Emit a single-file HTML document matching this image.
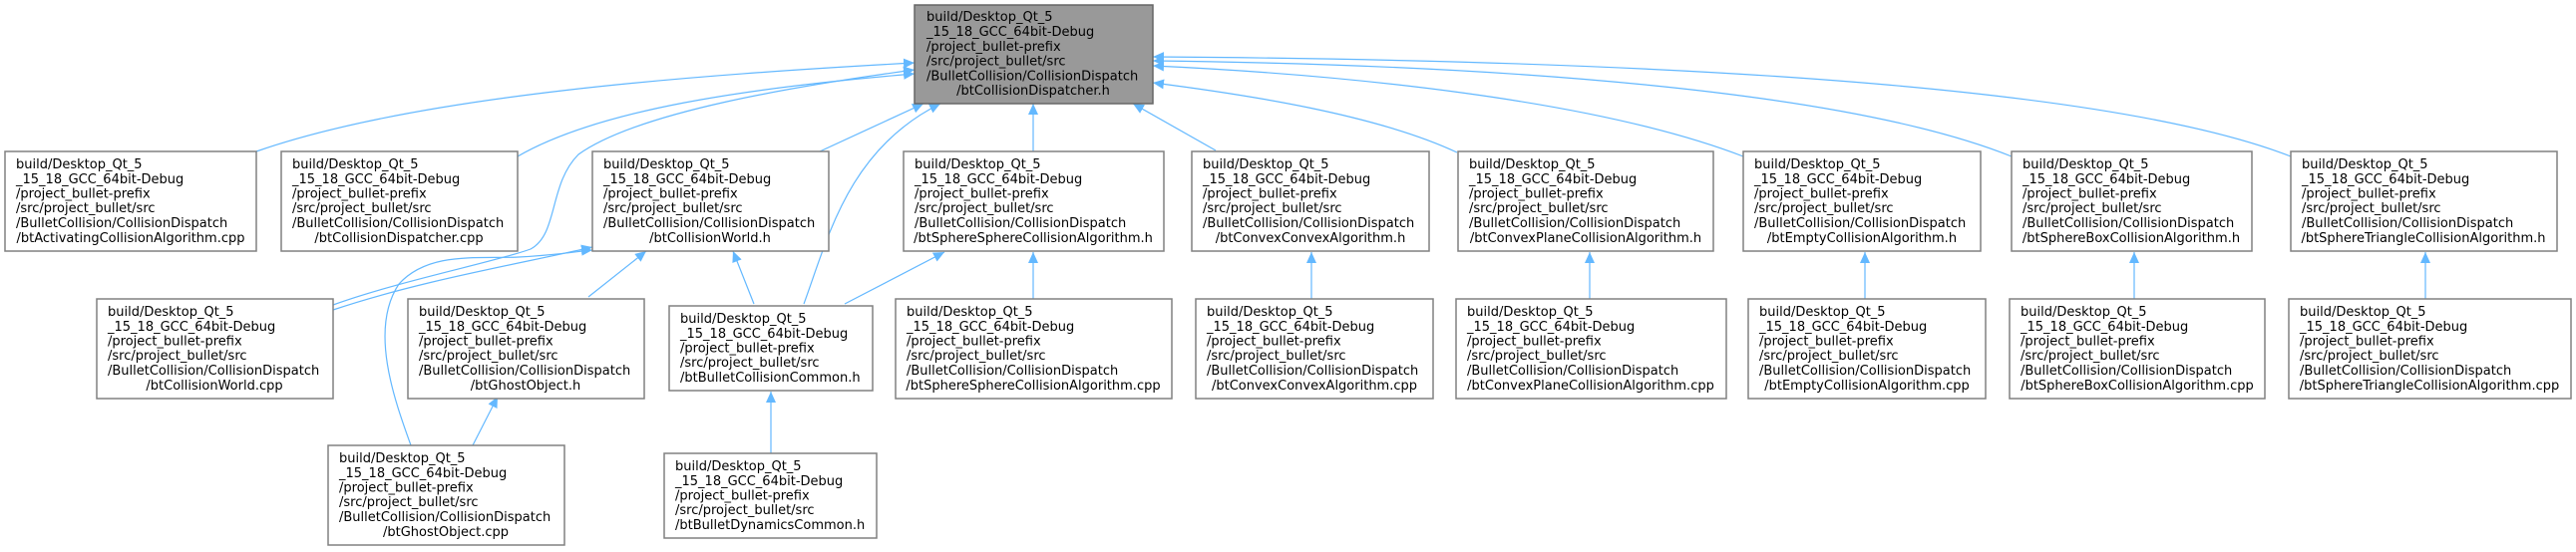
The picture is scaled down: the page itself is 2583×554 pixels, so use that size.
<!DOCTYPE html>
<html><head><meta charset="utf-8"><style>
html,body{margin:0;padding:0;background:#fff}
svg text{font-family:"DejaVu Sans","Liberation Sans",sans-serif;font-size:13px;fill:#000}
</style></head><body>
<svg width="2583" height="549" viewBox="0 0 2583 549" xmlns="http://www.w3.org/2000/svg">
<defs>
<marker id="a" markerWidth="12" markerHeight="10" refX="11" refY="5" orient="auto" markerUnits="userSpaceOnUse">
<path d="M0,0 L11,5 L0,10 z" fill="#63b8ff"/>
</marker>
</defs>
<g fill="none" stroke="#63b8ff" stroke-width="1.2" marker-end="url(#a)">
<path d="M257,152 C420,95 700,75 917,63"/>
<path d="M519,157 C600,110 750,88 917,74"/>
<path d="M334,306 C400,282 500,262 532,250 C560,235 550,185 580,155 C640,112 800,86 917,70"/>
<path d="M334,311 C420,282 520,265 594,248"/>
<path d="M412,447 C395,400 370,330 400,285 C430,252 480,260 520,258 C560,256 580,252 594,251"/>
<path d="M474,447 L499,398"/>
<path d="M590,298 L648,252"/>
<path d="M756,305 L735,252"/>
<path d="M806,305 C830,240 850,150 943,104"/>
<path d="M822,152 L926,104"/>
<path d="M847,305 L947,253"/>
<path d="M773,455 L773,393"/>
<path d="M1036,152 L1036,104"/>
<path d="M1036,300 L1036,253"/>
<path d="M1219,151 L1136,104"/>
<path d="M1315,300 L1315,253"/>
<path d="M1461,153 C1380,115 1250,95 1156,83"/>
<path d="M1748,157 C1600,100 1350,75 1156,66"/>
<path d="M2017,157 C1850,90 1500,65 1156,61"/>
<path d="M2297,157 C2100,80 1600,60 1156,57"/>
<path d="M1594,300 L1594,253"/>
<path d="M1870,300 L1870,253"/>
<path d="M2140,300 L2140,253"/>
<path d="M2432,300 L2432,253"/>
</g>
<g stroke="#808080" stroke-width="1.5">
<rect x="917" y="5" width="239" height="99" fill="#999999" stroke="#666"/>
<rect x="5" y="152" width="252" height="100" fill="#fff"/>
<rect x="282" y="152" width="237" height="100" fill="#fff"/>
<rect x="594" y="152" width="237" height="100" fill="#fff"/>
<rect x="906" y="152" width="261" height="100" fill="#fff"/>
<rect x="1195" y="152" width="238" height="100" fill="#fff"/>
<rect x="1462" y="152" width="256" height="100" fill="#fff"/>
<rect x="1748" y="152" width="238" height="100" fill="#fff"/>
<rect x="2017" y="152" width="241" height="100" fill="#fff"/>
<rect x="2297" y="152" width="267" height="100" fill="#fff"/>
<rect x="97" y="300" width="237" height="100" fill="#fff"/>
<rect x="409" y="300" width="237" height="100" fill="#fff"/>
<rect x="671" y="307" width="204" height="85" fill="#fff"/>
<rect x="898" y="300" width="277" height="100" fill="#fff"/>
<rect x="1199" y="300" width="238" height="100" fill="#fff"/>
<rect x="1460" y="300" width="271" height="100" fill="#fff"/>
<rect x="1753" y="300" width="238" height="100" fill="#fff"/>
<rect x="2015" y="300" width="256" height="100" fill="#fff"/>
<rect x="2295" y="300" width="283" height="100" fill="#fff"/>
<rect x="329" y="447" width="237" height="100" fill="#fff"/>
<rect x="666" y="455" width="213" height="85" fill="#fff"/>
</g>
<g id="t">
<text x="929" y="21">build/Desktop_Qt_5</text><text x="929" y="36">_15_18_GCC_64bit-Debug</text><text x="929" y="51">/project_bullet-prefix</text><text x="929" y="65.5">/src/project_bullet/src</text><text x="929" y="80.5">/BulletCollision/CollisionDispatch</text><text x="1036" y="95" text-anchor="middle">/btCollisionDispatcher.h</text>

<text x="16" y="169">build/Desktop_Qt_5</text><text x="16" y="184">_15_18_GCC_64bit-Debug</text><text x="16" y="198.5">/project_bullet-prefix</text><text x="16" y="213">/src/project_bullet/src</text><text x="16" y="228">/BulletCollision/CollisionDispatch</text><text x="131" y="243" text-anchor="middle">/btActivatingCollisionAlgorithm.cpp</text>

<text x="293" y="169">build/Desktop_Qt_5</text><text x="293" y="184">_15_18_GCC_64bit-Debug</text><text x="293" y="198.5">/project_bullet-prefix</text><text x="293" y="213">/src/project_bullet/src</text><text x="293" y="228">/BulletCollision/CollisionDispatch</text><text x="400" y="243" text-anchor="middle">/btCollisionDispatcher.cpp</text>

<text x="605" y="169">build/Desktop_Qt_5</text><text x="605" y="184">_15_18_GCC_64bit-Debug</text><text x="605" y="198.5">/project_bullet-prefix</text><text x="605" y="213">/src/project_bullet/src</text><text x="605" y="228">/BulletCollision/CollisionDispatch</text><text x="712" y="243" text-anchor="middle">/btCollisionWorld.h</text>

<text x="917" y="169">build/Desktop_Qt_5</text><text x="917" y="184">_15_18_GCC_64bit-Debug</text><text x="917" y="198.5">/project_bullet-prefix</text><text x="917" y="213">/src/project_bullet/src</text><text x="917" y="228">/BulletCollision/CollisionDispatch</text><text x="1036" y="243" text-anchor="middle">/btSphereSphereCollisionAlgorithm.h</text>

<text x="1206" y="169">build/Desktop_Qt_5</text><text x="1206" y="184">_15_18_GCC_64bit-Debug</text><text x="1206" y="198.5">/project_bullet-prefix</text><text x="1206" y="213">/src/project_bullet/src</text><text x="1206" y="228">/BulletCollision/CollisionDispatch</text><text x="1314" y="243" text-anchor="middle">/btConvexConvexAlgorithm.h</text>

<text x="1473" y="169">build/Desktop_Qt_5</text><text x="1473" y="184">_15_18_GCC_64bit-Debug</text><text x="1473" y="198.5">/project_bullet-prefix</text><text x="1473" y="213">/src/project_bullet/src</text><text x="1473" y="228">/BulletCollision/CollisionDispatch</text><text x="1590" y="243" text-anchor="middle">/btConvexPlaneCollisionAlgorithm.h</text>

<text x="1759" y="169">build/Desktop_Qt_5</text><text x="1759" y="184">_15_18_GCC_64bit-Debug</text><text x="1759" y="198.5">/project_bullet-prefix</text><text x="1759" y="213">/src/project_bullet/src</text><text x="1759" y="228">/BulletCollision/CollisionDispatch</text><text x="1867" y="243" text-anchor="middle">/btEmptyCollisionAlgorithm.h</text>

<text x="2028" y="169">build/Desktop_Qt_5</text><text x="2028" y="184">_15_18_GCC_64bit-Debug</text><text x="2028" y="198.5">/project_bullet-prefix</text><text x="2028" y="213">/src/project_bullet/src</text><text x="2028" y="228">/BulletCollision/CollisionDispatch</text><text x="2137" y="243" text-anchor="middle">/btSphereBoxCollisionAlgorithm.h</text>

<text x="2308" y="169">build/Desktop_Qt_5</text><text x="2308" y="184">_15_18_GCC_64bit-Debug</text><text x="2308" y="198.5">/project_bullet-prefix</text><text x="2308" y="213">/src/project_bullet/src</text><text x="2308" y="228">/BulletCollision/CollisionDispatch</text><text x="2430" y="243" text-anchor="middle">/btSphereTriangleCollisionAlgorithm.h</text>

<text x="108" y="317">build/Desktop_Qt_5</text><text x="108" y="332">_15_18_GCC_64bit-Debug</text><text x="108" y="346.5">/project_bullet-prefix</text><text x="108" y="361">/src/project_bullet/src</text><text x="108" y="376">/BulletCollision/CollisionDispatch</text><text x="215" y="391" text-anchor="middle">/btCollisionWorld.cpp</text>

<text x="420" y="317">build/Desktop_Qt_5</text><text x="420" y="332">_15_18_GCC_64bit-Debug</text><text x="420" y="346.5">/project_bullet-prefix</text><text x="420" y="361">/src/project_bullet/src</text><text x="420" y="376">/BulletCollision/CollisionDispatch</text><text x="527" y="391" text-anchor="middle">/btGhostObject.h</text>

<text x="682" y="324">build/Desktop_Qt_5</text><text x="682" y="339">_15_18_GCC_64bit-Debug</text><text x="682" y="353.5">/project_bullet-prefix</text><text x="682" y="368">/src/project_bullet/src</text><text x="682" y="383">/btBulletCollisionCommon.h</text>

<text x="909" y="317">build/Desktop_Qt_5</text><text x="909" y="332">_15_18_GCC_64bit-Debug</text><text x="909" y="346.5">/project_bullet-prefix</text><text x="909" y="361">/src/project_bullet/src</text><text x="909" y="376">/BulletCollision/CollisionDispatch</text><text x="1036" y="391" text-anchor="middle">/btSphereSphereCollisionAlgorithm.cpp</text>

<text x="1210" y="317">build/Desktop_Qt_5</text><text x="1210" y="332">_15_18_GCC_64bit-Debug</text><text x="1210" y="346.5">/project_bullet-prefix</text><text x="1210" y="361">/src/project_bullet/src</text><text x="1210" y="376">/BulletCollision/CollisionDispatch</text><text x="1318" y="391" text-anchor="middle">/btConvexConvexAlgorithm.cpp</text>

<text x="1471" y="317">build/Desktop_Qt_5</text><text x="1471" y="332">_15_18_GCC_64bit-Debug</text><text x="1471" y="346.5">/project_bullet-prefix</text><text x="1471" y="361">/src/project_bullet/src</text><text x="1471" y="376">/BulletCollision/CollisionDispatch</text><text x="1595" y="391" text-anchor="middle">/btConvexPlaneCollisionAlgorithm.cpp</text>

<text x="1764" y="317">build/Desktop_Qt_5</text><text x="1764" y="332">_15_18_GCC_64bit-Debug</text><text x="1764" y="346.5">/project_bullet-prefix</text><text x="1764" y="361">/src/project_bullet/src</text><text x="1764" y="376">/BulletCollision/CollisionDispatch</text><text x="1872" y="391" text-anchor="middle">/btEmptyCollisionAlgorithm.cpp</text>

<text x="2026" y="317">build/Desktop_Qt_5</text><text x="2026" y="332">_15_18_GCC_64bit-Debug</text><text x="2026" y="346.5">/project_bullet-prefix</text><text x="2026" y="361">/src/project_bullet/src</text><text x="2026" y="376">/BulletCollision/CollisionDispatch</text><text x="2143" y="391" text-anchor="middle">/btSphereBoxCollisionAlgorithm.cpp</text>

<text x="2306" y="317">build/Desktop_Qt_5</text><text x="2306" y="332">_15_18_GCC_64bit-Debug</text><text x="2306" y="346.5">/project_bullet-prefix</text><text x="2306" y="361">/src/project_bullet/src</text><text x="2306" y="376">/BulletCollision/CollisionDispatch</text><text x="2436" y="391" text-anchor="middle">/btSphereTriangleCollisionAlgorithm.cpp</text>

<text x="340" y="464">build/Desktop_Qt_5</text><text x="340" y="479">_15_18_GCC_64bit-Debug</text><text x="340" y="493.5">/project_bullet-prefix</text><text x="340" y="508">/src/project_bullet/src</text><text x="340" y="523">/BulletCollision/CollisionDispatch</text><text x="447" y="538" text-anchor="middle">/btGhostObject.cpp</text>

<text x="677" y="472">build/Desktop_Qt_5</text><text x="677" y="487">_15_18_GCC_64bit-Debug</text><text x="677" y="501.5">/project_bullet-prefix</text><text x="677" y="516">/src/project_bullet/src</text><text x="677" y="531">/btBulletDynamicsCommon.h</text>
</g>
</svg>
</body></html>
